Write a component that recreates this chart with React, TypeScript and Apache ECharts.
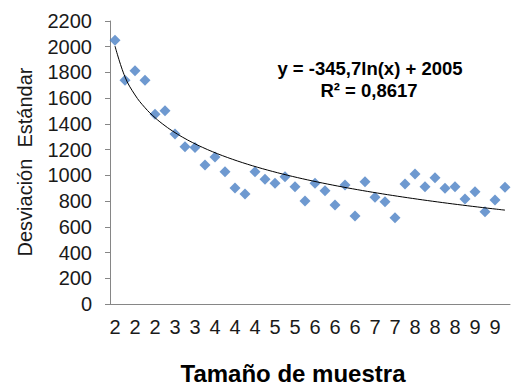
import React, { useEffect, useRef } from 'react';
import * as echarts from 'echarts';

const sampleSizes = [20, 22, 24, 26, 28, 30, 32, 34, 36, 38, 40, 42, 44, 46, 48, 50, 52, 54, 56, 58, 60, 62, 64, 66, 68, 70, 72, 74, 76, 78, 80, 82, 84, 86, 88, 90, 92, 94, 96, 98];
const stdDev = [2050, 1740, 1813, 1740, 1476, 1502, 1321, 1222, 1217, 1080, 1142, 1028, 901, 855, 1028, 969, 938, 990, 912, 800, 938, 880, 769, 925, 684, 951, 829, 795, 671, 932, 1010, 912, 982, 899, 912, 816, 873, 717, 808, 907];
const yMin = 0;
const yMax = 2200;
const yStep = 200;
const TREND_A = -345.7;
const TREND_B = 2005;
const equationText = 'y = -345,7ln(x) + 2005';
const r2Text = 'R² = 0,8617';
const xTitle = 'Tamaño de muestra';
const yTitle = 'Desviación  Estándar';

const FONT = '"Liberation Sans", Arial, sans-serif';

export default function App() {
  const ref = useRef<HTMLDivElement>(null);
  useEffect(() => {
    if (!ref.current) return;
    const chart = echarts.init(ref.current, null, { renderer: 'svg' });
    const trend = sampleSizes.map((_, i) => TREND_A * Math.log(i + 1) + TREND_B);
    chart.setOption({
      animation: false,
      backgroundColor: '#ffffff',
      textStyle: { fontFamily: FONT },
      grid: { left: 110, right: 6, top: 21, bottom: 82 },
      xAxis: {
        type: 'category',
        data: sampleSizes.map(String),
        boundaryGap: true,
        axisLine: { show: true, lineStyle: { color: '#868686', width: 1 } },
        axisTick: { show: false },
        axisLabel: {
          interval: 1,
          formatter: (v: string) => v.charAt(0),
          fontSize: 20,
          color: '#1a1a1a',
          margin: 13,
          fontFamily: FONT,
        },
        splitLine: { show: false },
      },
      yAxis: {
        type: 'value',
        min: yMin,
        max: yMax,
        interval: yStep,
        axisLine: { show: true, lineStyle: { color: '#868686', width: 1 } },
        axisTick: { show: true, length: 5, lineStyle: { color: '#868686' } },
        axisLabel: {
          fontSize: 20,
          color: '#1a1a1a',
          margin: 18,
          fontFamily: FONT,
          formatter: (v: number) => String(v),
        },
        splitLine: { show: false },
      },
      series: [
        {
          type: 'scatter',
          data: stdDev,
          symbol: 'diamond',
          symbolSize: 11,
          itemStyle: { color: '#4a7fc4' },
          z: 2,
        },
        {
          type: 'line',
          data: trend,
          symbol: 'none',
          smooth: 0.4,
          lineStyle: { color: '#000000', width: 1 },
          z: 3,
        },
      ],
      graphic: [
        {
          type: 'text',
          x: 370,
          y: 68,
          style: {
            text: equationText,
            font: `bold 18.5px ${FONT}`,
            fill: '#000',
            align: 'center',
            verticalAlign: 'middle',
          },
        },
        {
          type: 'text',
          x: 369,
          y: 90,
          style: {
            text: r2Text,
            font: `bold 18.5px ${FONT}`,
            fill: '#000',
            align: 'center',
            verticalAlign: 'middle',
          },
        },
        {
          type: 'text',
          x: 293,
          y: 373,
          style: {
            text: xTitle,
            font: `bold 24px ${FONT}`,
            fill: '#000',
            align: 'center',
            verticalAlign: 'middle',
          },
        },
        {
          type: 'text',
          x: 25,
          y: 162,
          rotation: Math.PI / 2,
          style: {
            text: yTitle,
            font: `20px ${FONT}`,
            fill: '#1a1a1a',
            align: 'center',
            verticalAlign: 'middle',
          },
        },
      ],
    });
    return () => chart.dispose();
  }, []);
  return (
    <div
      ref={ref}
      style={{ position: 'fixed', left: 0, top: 0, width: 516, height: 386 }}
    />
  );
}
